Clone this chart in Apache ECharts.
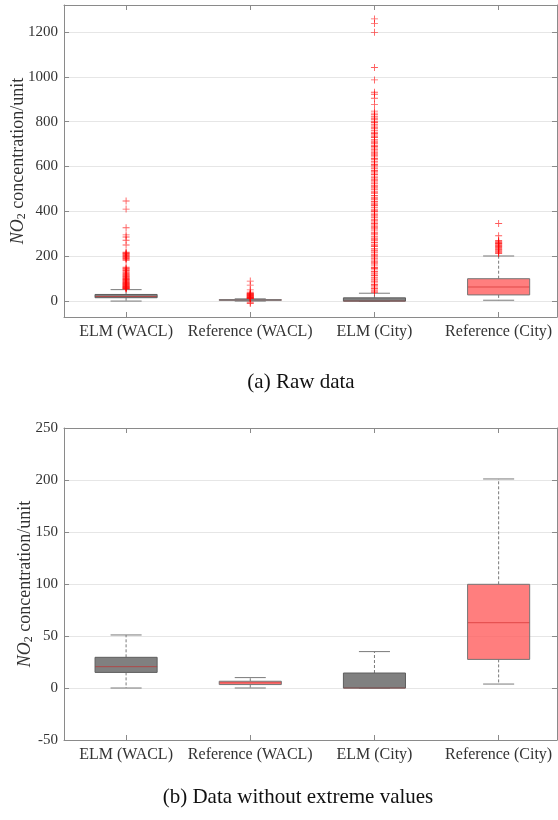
<!DOCTYPE html>
<html>
<head>
<meta charset="utf-8">
<script src="https://cdn.jsdelivr.net/npm/echarts@6/dist/echarts.min.js"></script>
<style>
  html, body { margin: 0; padding: 0; background: #fff; }
  #chart { width: 558px; height: 820px; }
</style>
</head>
<body>
<div id="chart"></div>
<script>
const categories = ["ELM (WACL)", "Reference (WACL)", "ELM (City)", "Reference (City)"];
const catPositions = [1, 2, 3, 4];

// [whisker low, Q1, median, Q3, whisker high]
const elmWacl = [0, 15, 20.5, 29.5, 51];
const refWacl = [0, 3.3, 5, 6.5, 10];
const elmCity = [0, 0, 0, 14.4, 35];
const refCity = [3.8, 27.5, 62.8, 99.7, 201];
const boxKinds = ["elm", "ref", "elm", "ref"];

// outliers (raw data only)
const elmWaclOut = [446, 410, 327, 295, 286, 271, 250, 218, 215, 212, 209, 206, 203, 199, 196, 193, 190, 186, 182, 151, 146, 143, 139, 136, 131, 127, 123, 119, 116, 113, 110, 107, 104, 101, 98, 96, 93, 91, 88, 86, 83, 81, 79, 77, 75, 73, 71, 69, 67, 65, 63, 62, 60, 59, 57, 56, 54];
const refWaclOut = [89, 71, 50, 40, 36, 34, 32, 30, 28, 27, 25, 23, 21, 19, 18, 16, 15, 13, 12, 11, -5, -11];
const elmCityOut = [1258, 1238, 1198, 1041, 986, 931, 922, 904, 877, 847, 838, 831, 822, 815, 809, 802, 796, 788, 781, 775, 768, 760, 753, 747, 741, 735, 729, 721, 714, 708, 702, 695, 689, 683, 677, 669, 661, 656, 650, 643, 636, 630, 623, 616, 609, 604, 598, 590, 582, 577, 571, 564, 557, 550, 543, 537, 531, 523, 516, 510, 504, 497, 490, 485, 479, 471, 463, 458, 452, 444, 437, 432, 426, 418, 410, 405, 399, 392, 385, 379, 373, 365, 358, 352, 346, 339, 332, 327, 321, 313, 305, 300, 295, 287, 280, 275, 269, 261, 254, 249, 243, 235, 228, 223, 217, 209, 202, 197, 191, 183, 176, 171, 165, 157, 150, 145, 139, 132, 125, 120, 114, 106, 99, 94, 88, 81, 74, 69, 63, 56, 50, 45, 39];
const refCityOut = [346, 291, 270, 265, 262, 259, 257, 254, 250, 247, 243, 239, 235, 231, 228, 224, 220, 216, 212];

const rawTicks = [0, 200, 400, 600, 800, 1000, 1200];
const trimTicks = [-50, 0, 50, 100, 150, 200, 250];

const serif = "'Liberation Serif', 'DejaVu Serif', serif";
const frameColor = "#8a8a8a";
const plusPath = "path://M4.35,0h1.3v4.35h4.35v1.3h-4.35v4.35h-1.3v-4.35h-4.35v-1.3h4.35z";

const boxes = [elmWacl, refWacl, elmCity, refCity];
const boxData = boxes.map((b, i) => [catPositions[i]].concat(b).concat([boxKinds[i] === "ref" ? 1 : 0]));

function outlierData() {
  const out = [];
  [elmWaclOut, refWaclOut, elmCityOut, refCityOut].forEach((list, i) => {
    list.forEach((v) => out.push([catPositions[i], v]));
  });
  return out;
}

function renderBox(params, api) {
  const pos = api.value(0);
  const isRef = api.value(6) === 1;
  const band = api.size([1, 0])[0];
  const halfBox = band * 0.25;
  const halfCap = band * 0.125;
  const lo = api.coord([pos, api.value(1)]);
  const q1 = api.coord([pos, api.value(2)]);
  const med = api.coord([pos, api.value(3)]);
  const q3 = api.coord([pos, api.value(4)]);
  const hi = api.coord([pos, api.value(5)]);
  const x = lo[0];
  const whisker = { stroke: "#7a7a7a", lineWidth: 1, lineDash: [3, 2] };
  const cap = { stroke: "#7a7a7a", lineWidth: 1 };
  const fill = isRef ? "rgba(255,90,90,0.78)" : "#808080";
  const border = isRef ? "#757575" : "#5e5e5e";
  const medColor = isRef ? "#e04848" : "#b04848";
  const top = Math.min(q3[1], q1[1]);
  const h = Math.max(Math.abs(q1[1] - q3[1]), 0.6);
  return {
    type: "group",
    children: [
      { type: "line", shape: { x1: x, y1: q3[1], x2: x, y2: hi[1] }, style: whisker },
      { type: "line", shape: { x1: x, y1: q1[1], x2: x, y2: lo[1] }, style: whisker },
      { type: "line", shape: { x1: x - halfCap, y1: hi[1], x2: x + halfCap, y2: hi[1] }, style: cap },
      { type: "line", shape: { x1: x - halfCap, y1: lo[1], x2: x + halfCap, y2: lo[1] }, style: cap },
      { type: "rect", shape: { x: x - halfBox, y: top, width: halfBox * 2, height: h }, style: { fill: fill } },
      { type: "line", shape: { x1: x - halfBox, y1: med[1], x2: x + halfBox, y2: med[1] }, style: { stroke: medColor, lineWidth: 1 } },
      { type: "rect", shape: { x: x - halfBox, y: top, width: halfBox * 2, height: h }, style: { fill: "none", stroke: border, lineWidth: 1 } },
    ],
  };
}

function catAxis(gridIndex, position) {
  const main = position === "bottom";
  return {
    type: "value",
    gridIndex: gridIndex,
    position: position,
    min: 0.5,
    max: 4.47,
    axisLine: { show: true, onZero: false, lineStyle: { color: frameColor, width: 1 } },
    axisTick: { show: true, inside: true, length: 5, customValues: catPositions, lineStyle: { color: frameColor } },
    axisLabel: {
      show: main,
      customValues: catPositions,
      formatter: (v) => categories[Math.round(v) - 1] || "",
      color: "#333",
      fontFamily: serif,
      fontSize: 16,
      margin: 7,
    },
    splitLine: { show: false },
  };
}

function valAxis(gridIndex, position, min, max, ticks, gap) {
  const main = position === "left";
  const axis = {
    type: "value",
    gridIndex: gridIndex,
    position: position,
    min: min,
    max: max,
    axisLine: { show: true, lineStyle: { color: frameColor, width: 1 } },
    axisTick: { show: true, inside: true, length: 5, customValues: ticks, lineStyle: { color: frameColor } },
    axisLabel: {
      show: main,
      customValues: ticks,
      formatter: (v) => String(v),
      color: "#333",
      fontFamily: serif,
      fontSize: 15,
      margin: 6,
    },
    splitLine: { show: main, lineStyle: { color: "#e6e6e6", width: 1 } },
  };
  if (main) {
    axis.name = "{i|NO}{s|2}{n| concentration/unit}";
    axis.nameLocation = "middle";
    axis.nameGap = gap;
    axis.nameMoveOverlap = false;
    axis.nameRotate = 90;
    axis.nameTextStyle = {
      color: "#333",
      fontFamily: serif,
      fontSize: 18,
      rich: {
        i: { fontFamily: serif, fontStyle: "italic", fontSize: 18, color: "#333" },
        s: { fontFamily: serif, fontSize: 12, color: "#333", padding: [7, 0, 0, 0] },
        n: { fontFamily: serif, fontSize: 18, color: "#333" },
      },
    };
  }
  return axis;
}

const chart = echarts.init(document.getElementById("chart"), null, { renderer: "canvas" });

chart.setOption({
  animation: false,
  backgroundColor: "#fff",
  grid: [
    { left: 64, top: 5, width: 493, height: 312, containLabel: false, outerBoundsMode: "none" },
    { left: 64, top: 428, width: 493, height: 312, containLabel: false, outerBoundsMode: "none" },
  ],
  xAxis: [catAxis(0, "bottom"), catAxis(0, "top"), catAxis(1, "bottom"), catAxis(1, "top")],
  yAxis: [
    valAxis(0, "left", -71, 1320, rawTicks, 36),
    valAxis(0, "right", -71, 1320, rawTicks, 0),
    valAxis(1, "left", -50, 250, trimTicks, 29),
    valAxis(1, "right", -50, 250, trimTicks, 0),
  ],
  series: [
    {
      type: "custom",
      xAxisIndex: 0,
      yAxisIndex: 0,
      renderItem: renderBox,
      data: boxData,
      z: 3,
    },
    {
      type: "scatter",
      xAxisIndex: 0,
      yAxisIndex: 0,
      symbol: plusPath,
      symbolSize: 7,
      itemStyle: { color: "rgba(255,0,0,0.8)" },
      data: outlierData(),
      z: 4,
    },
    {
      type: "custom",
      xAxisIndex: 2,
      yAxisIndex: 2,
      renderItem: renderBox,
      data: boxData,
      z: 3,
    },
  ],
  graphic: [
    {
      type: "text",
      x: 301,
      y: 382,
      style: { text: "(a) Raw data", fontFamily: serif, fontSize: 21, fill: "#111", textAlign: "center", textVerticalAlign: "middle" },
    },
    {
      type: "text",
      x: 298,
      y: 797,
      style: { text: "(b) Data without extreme values", fontFamily: serif, fontSize: 21, fill: "#111", textAlign: "center", textVerticalAlign: "middle" },
    },
  ],
});
</script>
</body>
</html>
